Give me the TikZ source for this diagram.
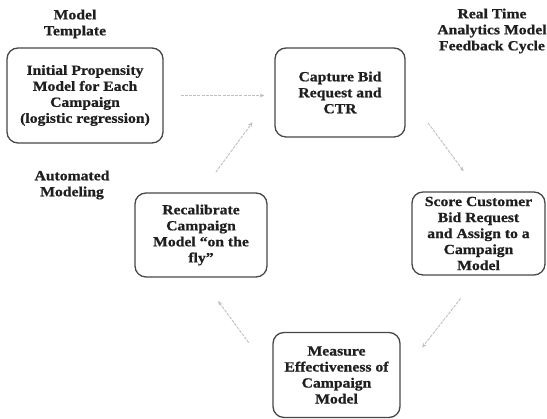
\documentclass[tikz,border=0pt]{standalone}
\usepackage{fontspec}
\setmainfont{Liberation Serif}[BoldFeatures={FakeStretch=1.12,FakeBold=0.8}]
\usetikzlibrary{arrows.meta}
\begin{document}
\begin{tikzpicture}[x=1pt,y=1pt,
  txt/.style={font=\fontsize{14}{16}\selectfont\bfseries, text=black!88, align=center, inner sep=0pt},
  stagebox/.style={txt, draw=black!72, line width=1.3pt, rounded corners=11pt},
  flow/.style={draw=black!25, line width=0.9pt, dash pattern=on 3pt off 1.2pt,
    -{Stealth[length=4.5pt,width=4pt]}}]
\useasboundingbox (0,0) rectangle (547,419);

% process stages
\node[stagebox, minimum width=156pt, minimum height=95pt] (init) at (85,323.5)
  {Initial Propensity\\Model for Each\\Campaign\\(logistic regression)};
\node[stagebox, minimum width=130pt, minimum height=89pt] (capture) at (340,326.5)
  {Capture Bid\\Request and\\CTR};
\node[stagebox, minimum width=133pt, minimum height=83pt] (score) at (478.5,185.5)
  {Score Customer\\Bid Request\\and Assign to a\\Campaign\\Model};
\node[stagebox, minimum width=127pt, minimum height=85pt] (measure) at (336.5,44)
  {Measure\\Effectiveness of\\Campaign\\Model};
\node[stagebox, minimum width=132pt, minimum height=84pt] (recal) at (201,184)
  {Recalibrate\\Campaign\\Model “on the\\fly”};

% captions
\node[txt] (tmpl) at (75,395) {Model\\Template};
\node[txt] (cycle) at (492,388) {Real Time\\Analytics Model\\Feedback Cycle};
\node[txt] (auto) at (72,234) {Automated\\Modeling};

% connectors
\draw[flow, shorten <=17pt, shorten >=10pt] (init.east) -- (init.east -| capture.west);
\draw[flow, shorten <=38pt, shorten >=25pt] (capture.east) -- (score.north);
\draw[flow, shorten <=29pt, shorten >=35pt] (score.south) -- (measure.east);
\draw[flow, shorten <=40pt, shorten >=29pt] (measure.west) -- (recal.south);
\draw[flow, shorten <=25pt, shorten >=37pt] (recal.north) -- (capture.west);
\end{tikzpicture}
\end{document}
